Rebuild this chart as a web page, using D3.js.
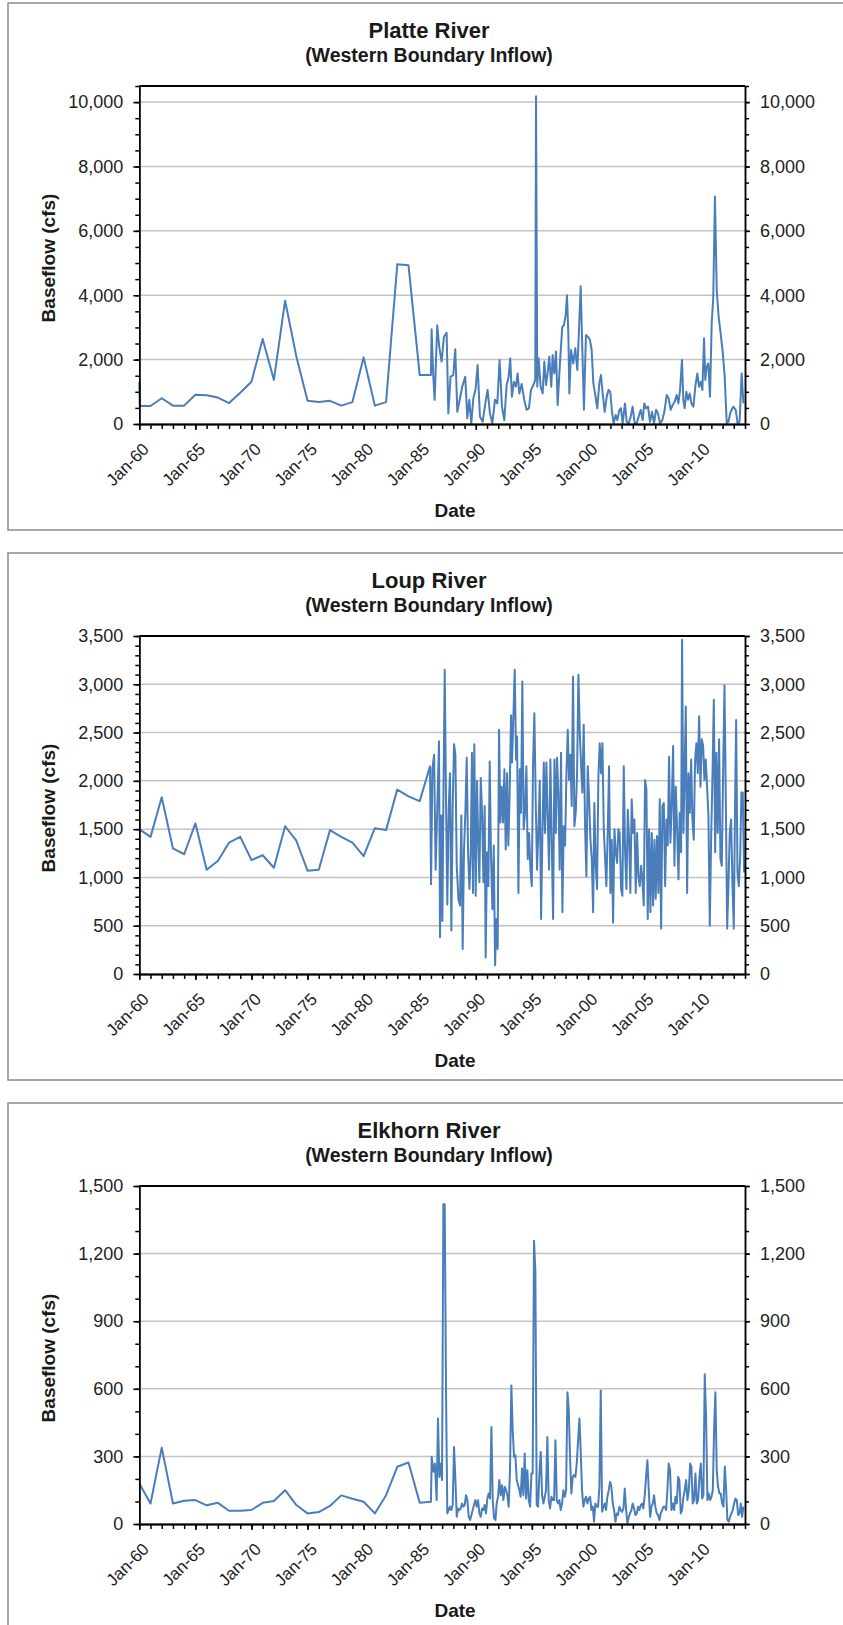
<!DOCTYPE html>
<html>
<head>
<meta charset="utf-8">
<script src="https://cdn.jsdelivr.net/npm/d3@7/dist/d3.min.js"></script>
<style>
    body { margin: 0; background: #fff; }
    svg text { font-family: "Liberation Sans", Arial, sans-serif; }
</style>
</head>
<body>
<svg id="page" width="843" height="1625"></svg>
<script>
// x axis: one tick per 5 years, labelled like Excel "Jan-60"
const xTickYears = [1960, 1965, 1970, 1975, 1980, 1985, 1990, 1995, 2000, 2005, 2010];
const xTickLabels = ["Jan-60", "Jan-65", "Jan-70", "Jan-75", "Jan-80", "Jan-85", "Jan-90", "Jan-95", "Jan-00", "Jan-05", "Jan-10"];

const platteTicks = [0, 2000, 4000, 6000, 8000, 10000];
const loupTicks = [0, 500, 1000, 1500, 2000, 2500, 3000, 3500];
const elkhornTicks = [0, 300, 600, 900, 1200, 1500];

// [decimal year, baseflow cfs]
const platteFlow = [
    [1960, 1300], [1960.04, 560], [1961, 560], [1962, 800], [1963, 570], [1964, 570], [1965, 910],
    [1966, 890], [1967, 820], [1968, 650], [1969, 970], [1970, 1310], [1971, 2640], [1972, 1370],
    [1973, 3830], [1974, 2100], [1975, 720], [1976, 680], [1977, 720], [1978, 570], [1979, 680],
    [1980, 2070], [1981, 570], [1982, 680], [1983, 4960], [1984, 4930], [1985, 1520], [1986, 1520],
    [1986.06, 2940], [1986.21, 1470], [1986.33, 750], [1986.56, 3070], [1986.74, 2400], [1986.95, 1940],
    [1987.16, 2710], [1987.40, 2830], [1987.55, 330], [1987.75, 1470], [1987.99, 1520], [1988.17, 2320],
    [1988.35, 380], [1988.59, 800], [1988.79, 1160], [1989.06, 1470], [1989.24, 180], [1989.42, 750],
    [1989.60, 20], [1989.78, 800], [1989.98, 1080], [1990.16, 1830], [1990.37, 230], [1990.61, 70],
    [1990.85, 640], [1991.05, 1060], [1991.26, 330], [1991.47, 20], [1991.71, 750], [1991.92, 640],
    [1992.12, 1990], [1992.33, 540], [1992.54, 120], [1992.75, 1210], [1992.93, 1470], [1993.07, 2040],
    [1993.22, 850], [1993.40, 1310], [1993.58, 1160], [1993.73, 1570], [1993.88, 950], [1994.09, 1240],
    [1994.32, 750], [1994.53, 440], [1994.74, 490], [1994.92, 1060], [1995.13, 1210], [1995.30, 1370],
    [1995.37, 10180], [1995.48, 1160], [1995.60, 2040], [1995.78, 1160], [1995.96, 950], [1996.11, 1940],
    [1996.26, 1210], [1996.40, 1570], [1996.55, 2090], [1996.73, 1160], [1996.85, 2140], [1997.00, 1570],
    [1997.15, 2250], [1997.30, 590], [1997.50, 1880], [1997.71, 3020], [1997.86, 3070], [1998.01, 3380],
    [1998.13, 4000], [1998.25, 2800], [1998.34, 950], [1998.49, 2300], [1998.69, 1880], [1998.87, 2350],
    [1999.05, 1680], [1999.20, 2920], [1999.35, 4280], [1999.50, 2300], [1999.64, 440], [1999.82, 2760],
    [2000.00, 2710], [2000.18, 2610], [2000.33, 2300], [2000.48, 1260], [2000.63, 950], [2000.83, 490],
    [2001.01, 1260], [2001.16, 1520], [2001.31, 950], [2001.49, 380], [2001.67, 850], [2001.84, 1060],
    [2001.99, 1000], [2002.14, 380], [2002.29, 20], [2002.47, 280], [2002.62, 120], [2002.80, 440],
    [2002.94, 490], [2003.09, 20], [2003.30, 640], [2003.45, 70], [2003.63, 20], [2003.81, 230],
    [2003.98, 540], [2004.16, 20], [2004.34, 20], [2004.52, 230], [2004.70, 440], [2004.88, 120],
    [2005.02, 640], [2005.17, 490], [2005.35, 540], [2005.53, 70], [2005.71, 380], [2005.89, 20],
    [2006.07, 440], [2006.24, 330], [2006.42, 20], [2006.63, 120], [2006.81, 380], [2007.02, 900],
    [2007.19, 800], [2007.37, 440], [2007.55, 590], [2007.73, 690], [2007.91, 900], [2008.06, 640],
    [2008.21, 1060], [2008.38, 1990], [2008.50, 750], [2008.62, 490], [2008.77, 1000], [2008.92, 750],
    [2009.07, 950], [2009.22, 640], [2009.40, 540], [2009.57, 1160], [2009.75, 1570], [2009.90, 1160],
    [2010.05, 1310], [2010.20, 1060], [2010.35, 2660], [2010.46, 1370], [2010.58, 1780], [2010.73, 1880],
    [2010.88, 850], [2011.03, 3120], [2011.17, 3950], [2011.32, 7070], [2011.48, 4160], [2011.65, 3330],
    [2011.83, 2810], [2012.01, 2250], [2012.19, 1470], [2012.37, 20], [2012.52, 70], [2012.72, 380],
    [2012.96, 540], [2013.17, 440], [2013.34, 20], [2013.52, 70], [2013.70, 1570], [2013.86, 640]
];

const loupFlow = [
    [1960, 1500], [1961, 1420], [1962, 1830], [1963, 1300], [1964, 1240], [1965, 1560], [1966, 1080],
    [1967, 1170], [1968, 1360], [1969, 1420], [1970, 1180], [1971, 1230], [1972, 1100], [1973, 1530],
    [1974, 1380], [1975, 1070], [1976, 1080], [1977, 1490], [1978, 1420], [1979, 1360], [1980, 1220],
    [1981, 1510], [1982, 1490], [1983, 1910], [1984, 1840], [1985, 1790],
    [1985.92, 2150], [1986.01, 930], [1986.13, 2120], [1986.28, 2270], [1986.42, 1080], [1986.57, 1740],
    [1986.72, 2410], [1986.81, 380], [1986.93, 1640], [1987.02, 550], [1987.11, 1810], [1987.23, 3150],
    [1987.35, 1740], [1987.46, 720], [1987.58, 1700], [1987.70, 2080], [1987.82, 450], [1987.94, 1740],
    [1988.06, 2380], [1988.18, 2270], [1988.30, 1120], [1988.45, 780], [1988.59, 710], [1988.71, 1640],
    [1988.83, 260], [1988.95, 1290], [1989.07, 1670], [1989.19, 2240], [1989.31, 1260], [1989.43, 880],
    [1989.55, 1260], [1989.66, 2290], [1989.75, 840], [1989.87, 2380], [1989.99, 810], [1990.11, 2000],
    [1990.20, 1460], [1990.32, 950], [1990.44, 2030], [1990.56, 1670], [1990.68, 950], [1990.79, 1740],
    [1990.88, 170], [1991.00, 1260], [1991.12, 910], [1991.24, 2200], [1991.36, 1190], [1991.48, 670],
    [1991.60, 1330], [1991.72, 90], [1991.83, 570], [1991.95, 260], [1992.07, 2530], [1992.19, 1570],
    [1992.31, 1940], [1992.43, 1570], [1992.55, 2120], [1992.67, 1290], [1992.79, 2080], [1992.90, 1330],
    [1993.02, 1880], [1993.14, 2680], [1993.23, 2190], [1993.35, 2670], [1993.47, 3150], [1993.59, 2220],
    [1993.68, 2460], [1993.80, 840], [1993.92, 2120], [1994.03, 1670], [1994.15, 3030], [1994.27, 1500],
    [1994.39, 1670], [1994.51, 2150], [1994.63, 1190], [1994.75, 1460], [1994.87, 1080], [1994.99, 910],
    [1995.10, 2150], [1995.22, 2700], [1995.34, 1810], [1995.46, 1080], [1995.58, 1460], [1995.70, 2000],
    [1995.82, 570], [1995.94, 1460], [1996.06, 2190], [1996.17, 1460], [1996.29, 2190], [1996.41, 1640],
    [1996.53, 1080], [1996.65, 2220], [1996.77, 1360], [1996.89, 570], [1997.01, 2220], [1997.13, 1460],
    [1997.24, 2240], [1997.36, 1880], [1997.48, 1080], [1997.60, 2290], [1997.72, 640], [1997.84, 1530],
    [1997.96, 1330], [1998.08, 2080], [1998.20, 2530], [1998.31, 2010], [1998.43, 2270], [1998.55, 1740],
    [1998.67, 3080], [1998.79, 1530], [1998.91, 1670], [1999.03, 2080], [1999.15, 3100], [1999.27, 2500],
    [1999.39, 2150], [1999.50, 1880], [1999.62, 2580], [1999.74, 1530], [1999.86, 1010], [1999.98, 2150],
    [2000.10, 1810], [2000.22, 1390], [2000.34, 1190], [2000.46, 640], [2000.57, 1770], [2000.69, 1120],
    [2000.81, 880], [2000.93, 2050], [2001.05, 2390], [2001.17, 2080], [2001.29, 2390], [2001.41, 1500],
    [2001.53, 1190], [2001.64, 910], [2001.76, 1460], [2001.88, 2150], [2002.00, 840], [2002.12, 1390],
    [2002.24, 530], [2002.36, 1500], [2002.48, 1260], [2002.60, 1150], [2002.71, 1500], [2002.83, 1460],
    [2002.95, 880], [2003.07, 810], [2003.19, 2150], [2003.31, 1260], [2003.43, 880], [2003.55, 1700],
    [2003.67, 1390], [2003.78, 840], [2003.90, 1810], [2004.02, 1460], [2004.14, 1600], [2004.26, 840],
    [2004.38, 1460], [2004.50, 1010], [2004.62, 910], [2004.74, 1120], [2004.85, 980], [2004.97, 710],
    [2005.09, 2010], [2005.21, 1910], [2005.33, 570], [2005.45, 1500], [2005.57, 640], [2005.69, 1460],
    [2005.81, 710], [2005.93, 1390], [2006.04, 780], [2006.16, 1430], [2006.28, 840], [2006.40, 1810],
    [2006.52, 470], [2006.64, 1740], [2006.76, 1770], [2006.88, 910], [2007.00, 1600], [2007.11, 1330],
    [2007.23, 2250], [2007.35, 1360], [2007.47, 1740], [2007.59, 2360], [2007.71, 1120], [2007.83, 1940],
    [2007.95, 1500], [2008.07, 980], [2008.18, 1670], [2008.30, 1260], [2008.39, 3460], [2008.51, 1460],
    [2008.60, 1980], [2008.72, 2770], [2008.84, 840], [2008.96, 2080], [2009.08, 1670], [2009.20, 2220],
    [2009.31, 1600], [2009.43, 1390], [2009.55, 2220], [2009.67, 2390], [2009.79, 2080], [2009.91, 2670],
    [2010.03, 1940], [2010.15, 2430], [2010.27, 2360], [2010.38, 2010], [2010.50, 2220], [2010.62, 1940],
    [2010.74, 1640], [2010.86, 500], [2010.98, 1390], [2011.10, 2050], [2011.22, 2840], [2011.34, 1260],
    [2011.45, 2290], [2011.57, 1460], [2011.69, 2430], [2011.81, 1190], [2011.93, 1120], [2012.05, 2080],
    [2012.17, 2990], [2012.29, 1810], [2012.41, 470], [2012.52, 910], [2012.64, 1460], [2012.76, 1600],
    [2012.88, 950], [2013.00, 470], [2013.12, 1810], [2013.21, 2630], [2013.33, 1050], [2013.45, 910],
    [2013.57, 1220], [2013.68, 1880], [2013.80, 1880], [2013.92, 1050]
];

const elkhornFlow = [
    [1960, 180], [1961, 91], [1962, 339], [1963, 91], [1964, 103], [1965, 106], [1966, 83], [1967, 94],
    [1968, 59], [1969, 59], [1970, 62], [1971, 94], [1972, 102], [1973, 150], [1974, 84], [1975, 47],
    [1976, 53], [1977, 80], [1978, 127], [1979, 112], [1980, 99], [1981, 47], [1982, 128], [1983, 254],
    [1984, 273], [1985, 94], [1986, 99],
    [1986.07, 298], [1986.22, 232], [1986.36, 268], [1986.51, 106], [1986.63, 468], [1986.75, 209],
    [1986.87, 268], [1986.99, 195], [1987.11, 1419], [1987.23, 1419], [1987.35, 563], [1987.46, 47],
    [1987.58, 62], [1987.70, 77], [1987.82, 62], [1987.94, 84], [1988.06, 342], [1988.18, 195],
    [1988.30, 32], [1988.42, 69], [1988.54, 62], [1988.65, 69], [1988.77, 91], [1988.89, 77],
    [1989.01, 84], [1989.13, 128], [1989.25, 106], [1989.37, 32], [1989.49, 18], [1989.61, 40],
    [1989.72, 62], [1989.84, 84], [1989.96, 106], [1990.08, 77], [1990.20, 106], [1990.32, 47],
    [1990.44, 32], [1990.56, 69], [1990.68, 62], [1990.79, 84], [1990.91, 47], [1991.03, 113],
    [1991.15, 135], [1991.27, 113], [1991.39, 431], [1991.51, 106], [1991.63, 25], [1991.75, 18],
    [1991.86, 91], [1991.98, 121], [1992.10, 195], [1992.22, 128], [1992.34, 172], [1992.46, 106],
    [1992.58, 165], [1992.70, 150], [1992.82, 128], [1992.93, 77], [1993.05, 239], [1993.17, 615],
    [1993.29, 416], [1993.41, 298], [1993.53, 305], [1993.65, 195], [1993.77, 172], [1993.89, 150],
    [1994.00, 121], [1994.12, 246], [1994.24, 128], [1994.36, 313], [1994.48, 113], [1994.60, 239],
    [1994.72, 106], [1994.84, 77], [1994.96, 224], [1995.07, 224], [1995.19, 1257], [1995.31, 1124],
    [1995.43, 84], [1995.55, 77], [1995.67, 224], [1995.79, 320], [1995.91, 128], [1996.03, 91],
    [1996.15, 121], [1996.26, 150], [1996.38, 386], [1996.50, 106], [1996.62, 69], [1996.74, 121],
    [1996.86, 106], [1996.98, 106], [1997.10, 372], [1997.22, 106], [1997.33, 91], [1997.45, 106],
    [1997.57, 62], [1997.69, 91], [1997.81, 150], [1997.93, 121], [1998.05, 150], [1998.17, 585],
    [1998.29, 504], [1998.40, 298], [1998.52, 135], [1998.64, 209], [1998.76, 217], [1998.88, 209],
    [1999.00, 268], [1999.12, 372], [1999.24, 468], [1999.36, 313], [1999.47, 150], [1999.59, 77],
    [1999.71, 106], [1999.83, 121], [1999.95, 91], [2000.07, 113], [2000.19, 121], [2000.31, 62],
    [2000.43, 77], [2000.54, 10], [2000.66, 91], [2000.78, 77], [2000.90, 77], [2001.02, 165],
    [2001.14, 593], [2001.26, 54], [2001.38, 77], [2001.50, 91], [2001.61, 62], [2001.73, 121],
    [2001.85, 150], [2001.97, 187], [2002.09, 165], [2002.21, 91], [2002.33, 62], [2002.45, 10],
    [2002.57, 47], [2002.68, 40], [2002.80, 77], [2002.92, 62], [2003.04, 54], [2003.16, 69],
    [2003.28, 157], [2003.40, 62], [2003.52, 3], [2003.64, 32], [2003.75, 47], [2003.87, 62],
    [2003.99, 91], [2004.11, 69], [2004.23, 40], [2004.35, 47], [2004.47, 77], [2004.59, 62],
    [2004.71, 84], [2004.82, 91], [2004.94, 69], [2005.06, 128], [2005.18, 209], [2005.30, 283],
    [2005.42, 150], [2005.54, 32], [2005.66, 77], [2005.78, 91], [2005.89, 128], [2006.01, 77],
    [2006.13, 47], [2006.25, 40], [2006.37, 18], [2006.49, 47], [2006.61, 62], [2006.73, 77],
    [2006.85, 77], [2006.97, 62], [2007.08, 150], [2007.20, 268], [2007.32, 239], [2007.44, 62],
    [2007.56, 91], [2007.68, 62], [2007.80, 121], [2007.92, 91], [2008.04, 209], [2008.15, 195],
    [2008.27, 47], [2008.39, 62], [2008.51, 121], [2008.63, 150], [2008.75, 195], [2008.87, 106],
    [2008.99, 150], [2009.11, 268], [2009.22, 253], [2009.34, 91], [2009.46, 106], [2009.58, 224],
    [2009.70, 91], [2009.82, 106], [2009.94, 209], [2010.06, 268], [2010.18, 113], [2010.29, 128],
    [2010.41, 665], [2010.53, 475], [2010.65, 106], [2010.77, 135], [2010.89, 106], [2011.01, 121],
    [2011.13, 150], [2011.25, 430], [2011.36, 585], [2011.48, 239], [2011.60, 165], [2011.72, 135],
    [2011.84, 135], [2011.96, 91], [2012.08, 77], [2012.20, 255], [2012.32, 150], [2012.43, 18],
    [2012.55, 10], [2012.67, 32], [2012.79, 47], [2012.91, 62], [2013.03, 91], [2013.15, 113],
    [2013.27, 106], [2013.39, 40], [2013.51, 47], [2013.63, 91], [2013.74, 32], [2013.86, 77]
];

class BaseflowChart {
    // plot area inside each framed panel (page x, panel-relative y)
    plot = {
        left: 139.3, right: 745, top: 83, bottom: 421
    }

    constructor(svg, top, title, majorTicks, yMax, minorStep) {
        this.svg = svg;
        this.top = top;
        this.title = title;
        this.majorTicks = majorTicks;
        this.yMax = yMax;
        this.minorStep = minorStep;
    }

    initialize() {
        this.container = this.svg.append("g")
            .attr("transform", `translate(0, ${this.top})`);

        this.container.append("rect")
            .attr("x", 8).attr("y", 0)
            .attr("width", 845).attr("height", 527)
            .attr("fill", "#fff")
            .attr("stroke", "#8a8a8a")
            .attr("stroke-width", 1.5);

        this.container.append("text")
            .attr("x", 429).attr("y", 35)
            .attr("text-anchor", "middle")
            .style("font-size", "22px").style("font-weight", "bold")
            .attr("fill", "#1a1a1a")
            .text(this.title);

        this.container.append("text")
            .attr("x", 429).attr("y", 59)
            .attr("text-anchor", "middle")
            .style("font-size", "19.5px").style("font-weight", "bold")
            .attr("fill", "#1a1a1a")
            .text("(Western Boundary Inflow)");

        this.container.append("text")
            .attr("transform", `translate(48, 255) rotate(-90)`)
            .attr("dy", "0.35em")
            .attr("text-anchor", "middle")
            .style("font-size", "19px").style("font-weight", "bold")
            .attr("fill", "#1a1a1a")
            .text("Baseflow (cfs)");

        this.container.append("text")
            .attr("x", 455).attr("y", 514)
            .attr("text-anchor", "middle")
            .style("font-size", "19px").style("font-weight", "bold")
            .attr("fill", "#1a1a1a")
            .text("Date");

        this.grid = this.container.append("g");
        this.lineG = this.container.append("g");
        this.axes = this.container.append("g");

        this.xScale = d3.scaleLinear().domain([1960, 2014]).range([this.plot.left, this.plot.right]);
        this.yScale = d3.scaleLinear().domain([0, this.yMax]).range([this.plot.bottom, this.plot.top]);
    }

    styleAxis(g, fontSize) {
        g.attr("font-family", null).attr("font-size", null);
        g.select(".domain").attr("stroke", "#000").attr("stroke-width", 1.5);
        g.selectAll(".tick line").attr("stroke", "#000").attr("stroke-width", 1.5);
        g.selectAll(".tick text").attr("fill", "#222").style("font-size", fontSize);
    }

    update(data) {
        const p = this.plot;
        const minorY = d3.range(0, this.yMax + 1, this.minorStep);
        const minorX = d3.range(1960, 2015, 1);

        this.grid.selectAll("line")
            .data(this.majorTicks.filter(d => d > 0 && d < this.yMax))
            .join("line")
            .attr("x1", p.left).attr("x2", p.right)
            .attr("y1", d => this.yScale(d)).attr("y2", d => this.yScale(d))
            .attr("stroke", "#c4c4c4")
            .attr("stroke-width", 1.5);

        const line = d3.line()
            .x(d => this.xScale(d[0]))
            .y(d => this.yScale(d[1]));

        this.lineG.append("path")
            .datum(data)
            .attr("d", line)
            .attr("fill", "none")
            .attr("stroke", "#4a7ebb")
            .attr("stroke-width", 2)
            .attr("stroke-linejoin", "round");

        // top border of the plot area
        this.axes.append("line")
            .attr("x1", p.left).attr("x2", p.right)
            .attr("y1", p.top).attr("y2", p.top)
            .attr("stroke", "#000").attr("stroke-width", 2);

        // left axis: minor then major
        this.axes.append("g")
            .attr("transform", `translate(${p.left}, 0)`)
            .call(d3.axisLeft(this.yScale).tickValues(minorY).tickSize(4).tickSizeOuter(0).tickFormat(""))
            .call(g => this.styleAxis(g, "18px"));
        this.axes.append("g")
            .attr("transform", `translate(${p.left}, 0)`)
            .call(d3.axisLeft(this.yScale).tickValues(this.majorTicks).tickSize(6).tickSizeOuter(0)
                .tickPadding(10).tickFormat(d3.format(",")))
            .call(g => this.styleAxis(g, "18px"));

        // right axis mirrors the left one
        this.axes.append("g")
            .attr("transform", `translate(${p.right}, 0)`)
            .call(d3.axisRight(this.yScale).tickValues(minorY).tickSize(4).tickSizeOuter(0).tickFormat(""))
            .call(g => this.styleAxis(g, "18px"));
        this.axes.append("g")
            .attr("transform", `translate(${p.right}, 0)`)
            .call(d3.axisRight(this.yScale).tickValues(this.majorTicks).tickSize(5).tickSizeOuter(0)
                .tickPadding(10).tickFormat(d3.format(",")))
            .call(g => this.styleAxis(g, "18px"));

        // bottom axis: a tick each year, labels each 5 years
        this.axes.append("g")
            .attr("transform", `translate(0, ${p.bottom})`)
            .call(d3.axisBottom(this.xScale).tickValues(minorX).tickSize(5).tickSizeOuter(0).tickFormat(""))
            .call(g => this.styleAxis(g, "17px"))
            .call(g => g.select(".domain").attr("stroke-width", 2));
        this.axes.append("g")
            .attr("transform", `translate(0, ${p.bottom})`)
            .call(d3.axisBottom(this.xScale).tickValues(xTickYears).tickSize(6).tickSizeOuter(0)
                .tickFormat((d, i) => xTickLabels[i]))
            .call(g => this.styleAxis(g, "17px"))
            .call(g => g.selectAll(".tick text")
                .attr("x", 0).attr("y", 0).attr("dy", "0.35em")
                .attr("text-anchor", "end")
                .attr("transform", "translate(6, 22) rotate(-45)"));
    }
}

const svg = d3.select("#page");

const platte = new BaseflowChart(svg, 3, "Platte River", platteTicks, 10500, 500);
platte.initialize();
platte.update(platteFlow);

const loup = new BaseflowChart(svg, 553, "Loup River", loupTicks, 3500, 100);
loup.initialize();
loup.update(loupFlow);

const elkhorn = new BaseflowChart(svg, 1103, "Elkhorn River", elkhornTicks, 1500, 100);
elkhorn.initialize();
elkhorn.update(elkhornFlow);
</script>
</body>
</html>
